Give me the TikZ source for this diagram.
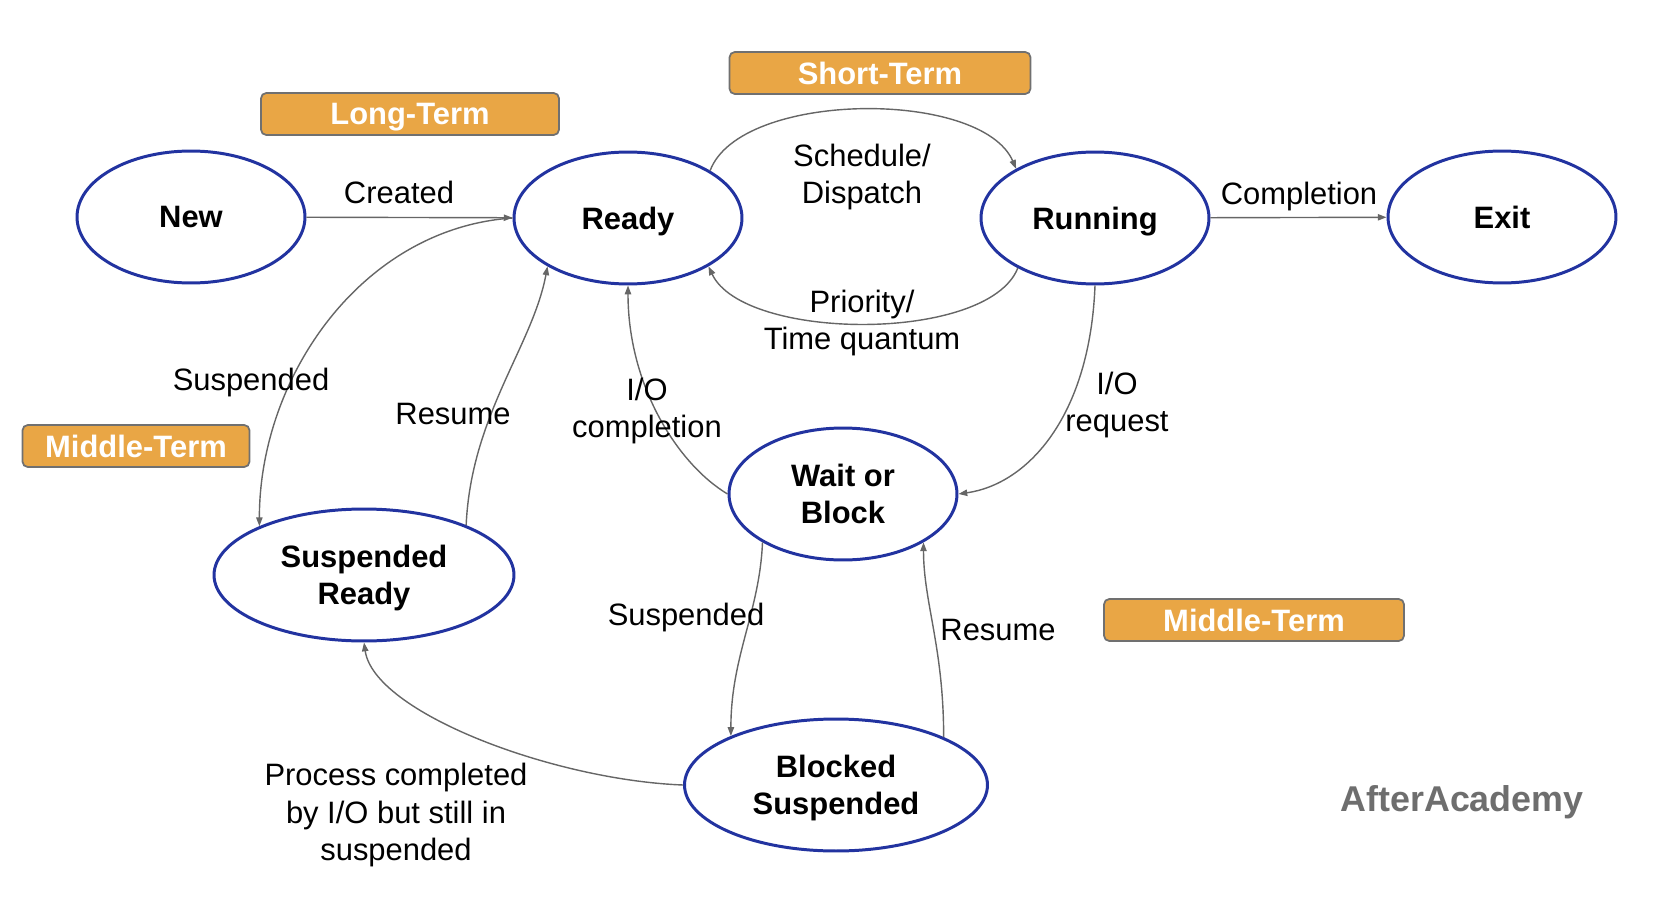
\documentclass[tikz,border=0pt]{standalone}
\usepackage{fontspec}
\setmainfont{Liberation Sans}
\usetikzlibrary{shapes.geometric,arrows.meta}
\definecolor{stateblue}{HTML}{2233A0}
\definecolor{termorange}{HTML}{E9A645}
\definecolor{termborder}{HTML}{707070}
\definecolor{linegray}{HTML}{666666}
\definecolor{markgray}{HTML}{6E6E6E}

\begin{document}
\begin{tikzpicture}[x=0.02cm, y=-0.02cm,
		every node/.style={font=\fontsize{17.6}{21.3}\selectfont, align=center},
		state/.style={ellipse, draw=stateblue, line width=1.7pt, fill=white, inner sep=0pt, text depth=0pt, minimum width=4.56cm, minimum height=2.64cm, font=\fontsize{17.6}{21.3}\selectfont\bfseries},
		term/.style={rectangle, rounded corners=3pt, draw=termborder, line width=1pt, fill=termorange, text=white, inner sep=0pt, text depth=0pt, minimum height=0.84cm, font=\fontsize{17.6}{21.3}\selectfont\bfseries},
		lbl/.style={inner sep=0pt},
		conn/.style={draw=linegray, line width=0.8pt, -{Triangle[length=5pt,width=3.6pt]}}]
			\useasboundingbox (0,0) rectangle (1654,906);
			
			\node[term, minimum width=5.96cm] (longterm) at (410,114) {Long-Term};
			\node[term, minimum width=6.02cm] (shortterm) at (880,73) {Short-Term};
			\node[term, minimum width=4.54cm] (midleft) at (136,446) {Middle-Term};
			\node[term, minimum width=6.0cm] (midright) at (1254,620) {Middle-Term};
			
			\node[state] (new) at (191,217) {New};
			\node[state] (ready) at (628,218) {Ready};
			\node[state] (running) at (1095,218) {Running};
			\node[state] (exit) at (1502,217) {Exit};
			\node[state] (wait) at (843,494) {Wait or\\Block};
			\node[state, minimum width=6.0cm] (sr) at (364,575) {Suspended\\Ready};
			\node[state, minimum width=6.06cm] (bs) at (836,785) {Blocked\\Suspended};
			
			\draw[conn] (new) -- (ready);
			\draw[conn] (running) -- (exit);
			\draw[conn] (ready.30) .. controls +(30,-80) and +(-35,-80) .. (running.148);
			\draw[conn] (running.213) .. controls +(-30,75) and +(35,75) .. (ready.329);
			\draw[conn] (running.south) .. controls +(-5,130) and +(70,-10) .. (wait.east);
			\draw[conn] (wait.west) .. controls +(-50,-30) and +(0,100) .. (ready.south);
			\draw[conn] (ready.west) .. controls +(-150,10) and +(0,-150) .. (sr.155);
			\draw[conn] (sr.26) .. controls +(5,-110) and +(-15,80) .. (ready.211);
			\draw[conn] (wait.211) .. controls +(-3,70) and +(0,-80) .. (bs.155);
			\draw[conn] (bs.24) .. controls +(0,-90) and +(0,60) .. (wait.329);
			\draw[conn] (bs.west) .. controls +(-130,-5) and +(10,70) .. (sr.south);
			
			\node[lbl] (created) at (399,192) {Created};
			\node[lbl] (dispatch) at (862,177) {Schedule/\\Dispatch};
			\node[lbl] (priority) at (862,323) {Priority/\\Time quantum};
			\node[lbl] (completion) at (1299,197) {Completion};
			\node[lbl] (iorequest) at (1117,405) {I/O\\request};
			\node[lbl] (iocompletion) at (647,411) {I/O\\completion};
			\node[lbl] (suspendsr) at (251,383) {Suspended};
			\node[lbl] (resumesr) at (453,414) {Resume};
			\node[lbl] (suspendbs) at (686,617) {Suspended};
			\node[lbl] (resumebs) at (998,630) {Resume};
			\node[lbl] (iodone) at (396,815) {Process completed\\by I/O but still in\\suspended};
			\node[lbl, text=markgray, font=\fontsize{20.4}{24}\selectfont\bfseries] (brand) at (1462,802) {AfterAcademy};
		\end{tikzpicture}
\end{document}
